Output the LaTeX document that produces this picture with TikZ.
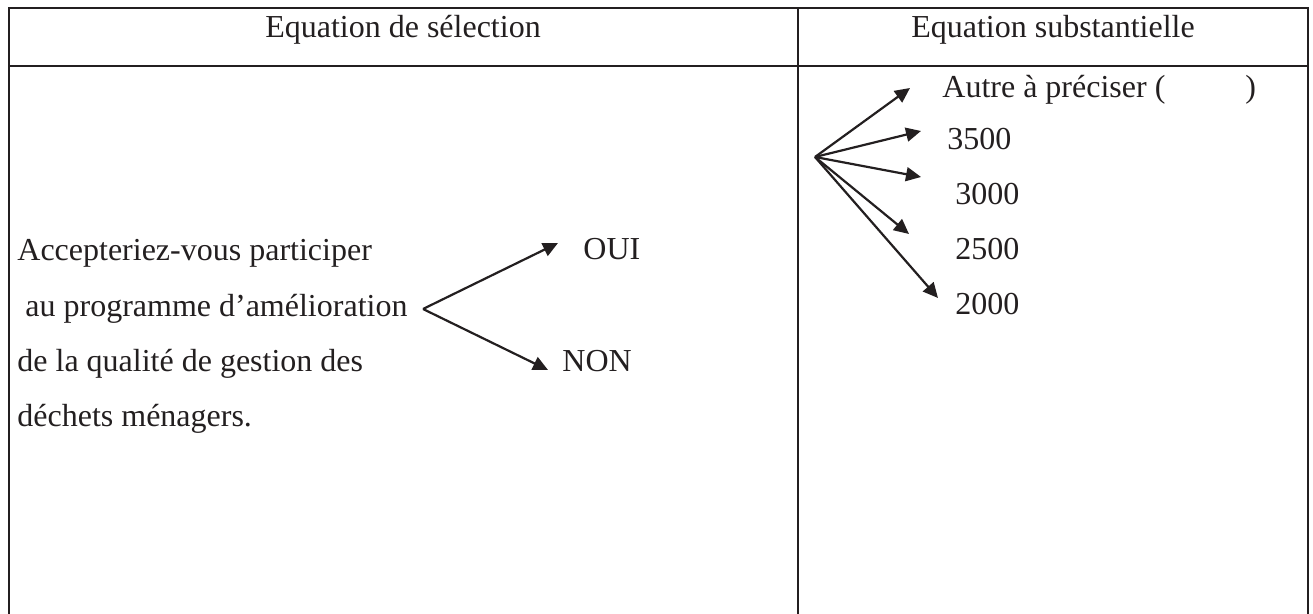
\documentclass[tikz,border=0pt]{standalone}
\usepackage{fontspec}
\setmainfont{Liberation Serif}
\usepackage{xcolor}
\usetikzlibrary{positioning}
\usetikzlibrary{arrows.meta}
\definecolor{ink}{RGB}{35,31,32}
\tikzset{
	x=0.5pt, y=-0.5pt, % en enhed = en pixel
	every node/.style={
			font=\fontsize{16}{19}\selectfont,
			text=ink,
			inner sep=0pt
		},
	txt/.style={anchor=base west},
	hdr/.style={anchor=base},
	rule/.style={draw=ink, line width=1pt},
	arr/.style={ % pile med fyldt spids
			draw=ink,
			line width=1.1pt,
			-{Triangle[length=7.5pt,width=7pt]}
		}
}
\begin{document}
\begin{tikzpicture}
    \useasboundingbox (0,0) rectangle (1313,614);
    % tabel
    \draw[rule] (8.5,614) -- (8.5,8.5) -- (1308,8.5) -- (1308,614);
    \draw[rule] (8.5,66) -- (1308,66);
    \draw[rule] (798,8.5) -- (798,614);
    \node[hdr] (hsel) at (403,38) {Equation de s\'election};
    \node[hdr] (hsub) at (1053,38) {Equation substantielle};
    % selektionsligning
    \node[txt] (q1) at (17,261) {Accepteriez-vous participer};
    \node[txt] (q2) at (17,317) {\ au programme d'am\'elioration};
    \node[txt] (q3) at (17,372) {de la qualit\'e de gestion des};
    \node[txt] (q4) at (17,427) {d\'echets m\'enagers.};
    \node[txt] (oui) at (583,260) {OUI};
    \node[txt] (non) at (562,372) {NON};
    \coordinate (qsplit) at (423,309);
    \coordinate (toui) at (558,243);
    \coordinate (tnon) at (548,370);
    \draw[arr] (qsplit) -- (toui);
    \draw[arr] (qsplit) -- (tnon);
    % substantiel ligning
    \node[txt] (autre) at (942,98) {Autre \`a pr\'eciser (\hspace{40pt})};
    \node[txt] (v3500) at (947,150) {3500};
    \node[txt] (v3000) at (955,205) {3000};
    \node[txt] (v2500) at (955,260) {2500};
    \node[txt] (v2000) at (955,315) {2000};
    \coordinate (ssplit) at (815,157);
    \coordinate (tautre) at (910,88);
    \coordinate (t3500) at (921,131);
    \coordinate (t3000) at (921,177);
    \coordinate (t2500) at (909,234);
    \coordinate (t2000) at (938,298);
    \foreach \t in {tautre,t3500,t3000,t2500,t2000}
        \draw[arr] (ssplit) -- (\t);
\end{tikzpicture}
\end{document}
